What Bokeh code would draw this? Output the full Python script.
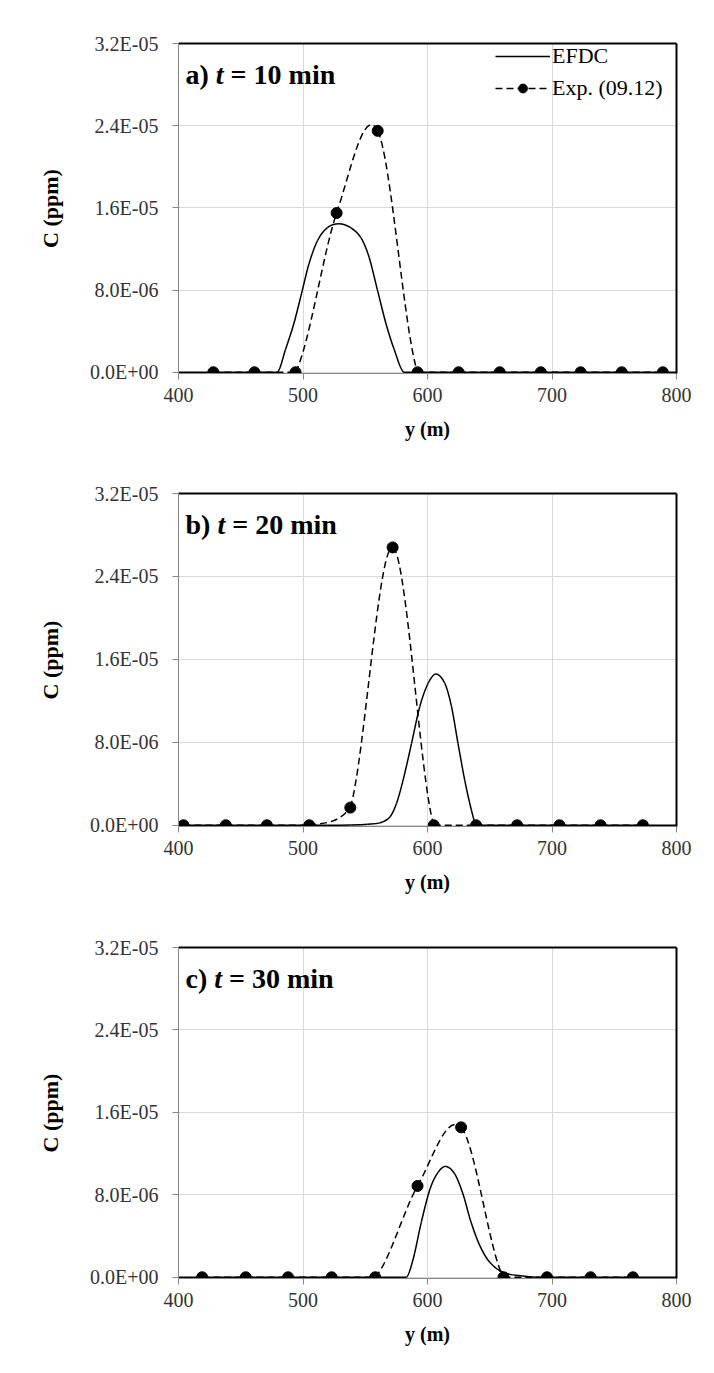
import math
from bokeh.plotting import figure
from bokeh.models import (Range1d, FixedTicker, CustomJSTickFormatter, Label, Legend,
                          LegendItem, LinearAxis, ColumnDataSource)
from bokeh.layouts import column
from bokeh.embed import file_html
from bokeh.resources import INLINE

# ---------------- data ----------------
x_ticks = [400, 500, 600, 700, 800]
y_ticks = [0.0, 8.0e-6, 1.6e-5, 2.4e-5, 3.2e-5]
y_tick_labels = ["0.0E+00", "8.0E-06", "1.6E-05", "2.4E-05", "3.2E-05"]

panel_letters = ["a)", "b)", "c)"]
panel_minutes = ["10", "20", "30"]
series_names = ["EFDC", "Exp. (09.12)"]
x_label = "y (m)"
y_label = "C (ppm)"

# a) t = 10 min
efdc_a_y = [400, 479.4, 486, 492.8, 499.5, 504.8, 511.6, 519.6, 528.9, 538.3, 546.4, 553.1,
            559.8, 566.5, 573.2, 581.2, 800]
efdc_a_c = [0, 0, 2.24e-6, 4.8e-6, 8.0e-6, 10.56e-6, 12.8e-6, 14.08e-6, 14.46e-6, 14.08e-6,
            13.12e-6, 11.2e-6, 8.0e-6, 4.8e-6, 2.24e-6, 0, 0]
exp_a_y = [428, 461, 494, 527, 560, 592, 625, 658, 691, 723, 756, 789]
exp_a_c = [0, 0, 0, 1.55e-5, 2.35e-5, 0, 0, 0, 0, 0, 0, 0]

# b) t = 20 min
efdc_b_y = [400, 520, 538, 552, 561.7, 569.8, 575.1, 580.4, 587.2, 593.8, 600.5, 606.7, 613.9,
            619.3, 624.5, 629.9, 635.3, 639.3, 800]
efdc_b_c = [0, 0, 0.03e-6, 0.1e-6, 0.23e-6, 0.8e-6, 2.1e-6, 4.35e-6, 7.9e-6, 11.45e-6, 13.7e-6,
            14.6e-6, 13.7e-6, 11.45e-6, 7.9e-6, 4.35e-6, 1.45e-6, 0, 0]
exp_b_y = [404, 438, 471, 505, 538, 572, 605, 639, 672, 706, 739, 773]
exp_b_c = [0, 0, 0, 0, 1.7e-6, 2.68e-5, 0, 0, 0, 0, 0, 0]

# c) t = 30 min
efdc_c_y = [400, 583, 588.5, 595, 602, 608.5, 615, 622, 628.5, 635, 642, 650, 660.5, 676.5, 690, 800]
efdc_c_c = [0, 0, 1.77e-6, 5.33e-6, 8.56e-6, 10.18e-6, 10.76e-6, 10.0e-6, 8.08e-6, 5.33e-6,
            3.07e-6, 1.45e-6, 0.48e-6, 0.12e-6, 0, 0]
exp_c_y = [419, 454, 488, 523, 558, 592, 627, 661, 696, 731, 765]
exp_c_c = [0, 0, 0, 0, 0, 8.86e-6, 1.455e-5, 0, 0, 0, 0]

# ---------------- helpers ----------------
SERIF = "Liberation Serif"
TB = {' ': 250, 'a': 500, 'b': 556, 'c': 444, ')': 333, '(': 333, '=': 570, '0': 500, '1': 500,
      '2': 500, '3': 500, 'm': 833, 'i': 278, 'n': 556, 'p': 556, 'C': 722}
TBI = {'t': 278, 'y': 444, 'C': 667, ' ': 250}


def tw(s, size, table):
    return sum(table.get(ch, 500) for ch in s) / 1000.0 * size


def smooth_segments(xs, ys):
    """Smoothed line (Excel style): cubic Bezier segments through the points,
    tangents from neighbouring points (Catmull-Rom in x), control points kept >= 0."""
    n = len(xs)

    def slope(i):
        a = max(i - 1, 0)
        b = min(i + 1, n - 1)
        return (ys[b] - ys[a]) / (xs[b] - xs[a])

    out = dict(x0=[], y0=[], x1=[], y1=[], cx0=[], cy0=[], cx1=[], cy1=[])
    for i in range(n - 1):
        h = xs[i + 1] - xs[i]
        out["x0"].append(xs[i]); out["y0"].append(ys[i])
        out["x1"].append(xs[i + 1]); out["y1"].append(ys[i + 1])
        out["cx0"].append(xs[i] + h / 3.0)
        out["cy0"].append(max(0.0, ys[i] + slope(i) * h / 3.0))
        out["cx1"].append(xs[i + 1] - h / 3.0)
        out["cy1"].append(max(0.0, ys[i + 1] - slope(i + 1) * h / 3.0))
    return out


def add_text(p, x, y, text, size, style):
    p.add_layout(Label(x=x, y=y, x_units="screen", y_units="screen", text=text,
                       text_font=SERIF, text_font_size=f"{size}px", text_font_style=style,
                       text_color="black", text_align="left", text_baseline="alphabetic"))


def make_panel(idx, efdc_y, efdc_c, exp_y, exp_c, height, top, bottom, legend=False):
    W = 714
    left, right = 178, 38
    fh = height - top - bottom
    p = figure(width=W, height=height, x_range=Range1d(400, 800),
               y_range=Range1d(-1.2e-7, 3.2e-5), output_backend="svg",
               toolbar_location=None, min_border_left=left, min_border_right=right,
               min_border_top=top, min_border_bottom=bottom,
               background_fill_color="white", border_fill_color="white",
               outline_line_color=None)

    xa, ya = p.xaxis[0], p.yaxis[0]
    xa.ticker = FixedTicker(ticks=x_ticks)
    ya.ticker = FixedTicker(ticks=y_ticks)
    ya.formatter = CustomJSTickFormatter(
        args=dict(tick_values=y_ticks, tick_labels=y_tick_labels),
        code="""
        let best = 0;
        for (let i = 0; i < tick_values.length; i++) {
            if (Math.abs(tick_values[i] - tick) < Math.abs(tick_values[best] - tick)) best = i;
        }
        return tick_labels[best];
        """)
    for ax in (xa, ya):
        ax.axis_line_color = "#868686"
        ax.axis_line_width = 1
        ax.major_tick_line_color = "#868686"
        ax.major_tick_out = 6
        ax.major_tick_in = 0
        ax.minor_tick_line_color = None
        ax.major_label_text_font = SERIF
        ax.major_label_text_font_size = "20px"
        ax.major_label_text_color = "#333333"
        ax.axis_label_text_font = SERIF
        ax.axis_label_text_font_style = "bold"
        ax.axis_label_text_color = "black"
    xa.major_label_standoff = 8
    ya.major_label_standoff = 14
    xa.axis_label = x_label
    xa.axis_label_text_font_size = "20px"
    xa.axis_label_standoff = 13
    ya.axis_label = y_label
    ya.axis_label_text_font_size = "22px"
    ya.axis_label_standoff = 24

    p.xgrid.ticker = FixedTicker(ticks=x_ticks)
    p.ygrid.ticker = FixedTicker(ticks=y_ticks)
    p.xgrid.grid_line_color = "#d9d9d9"
    p.ygrid.grid_line_color = "#d9d9d9"

    # black border on top / right
    for place in ("above", "right"):
        ax = LinearAxis(ticker=FixedTicker(ticks=[]), axis_line_color="black",
                        axis_line_width=2, major_tick_line_color=None,
                        minor_tick_line_color=None, major_label_text_font_size="0px")
        p.add_layout(ax, place)

    src_e = ColumnDataSource(smooth_segments(efdc_y, efdc_c))
    r_efdc = p.bezier(x0="x0", y0="y0", x1="x1", y1="y1", cx0="cx0", cy0="cy0",
                      cx1="cx1", cy1="cy1", source=src_e, line_color="black",
                      line_width=1.5)
    src = ColumnDataSource(smooth_segments(exp_y, exp_c))
    r_bez = p.bezier(x0="x0", y0="y0", x1="x1", y1="y1", cx0="cx0", cy0="cy0",
                     cx1="cx1", cy1="cy1", source=src, line_color="black",
                     line_width=1.5, line_dash="7 4")
    r_dots = p.scatter(exp_y, exp_c, size=11, color="black", marker="circle")

    if legend:
        lg = Legend(items=[LegendItem(label=series_names[0], renderers=[r_efdc]),
                           LegendItem(label=series_names[1], renderers=[r_bez, r_dots])],
                    location=(317, fh - 8 - 50), padding=0, margin=0, spacing=6,
                    glyph_width=55, glyph_height=22, label_height=22, label_standoff=2,
                    label_text_font=SERIF, label_text_font_size="22px",
                    label_text_color="black", background_fill_alpha=0,
                    border_line_color=None)
        p.add_layout(lg)

    # panel title: "a) t = 10 min" (t in italics)
    ts = 28
    x0 = 7
    yb = fh - 30.6
    add_text(p, x0, yb, panel_letters[idx], ts, "bold")
    x1 = x0 + tw(panel_letters[idx] + " ", ts, TB)
    add_text(p, x1, yb, "t", ts, "bold italic")
    x2 = x1 + tw("t", ts, TBI) + tw(" ", ts, TB)
    add_text(p, x2, yb, "= " + panel_minutes[idx] + " min", ts, "bold")
    return p


pa = make_panel(0, efdc_a_y, efdc_a_c, exp_a_y, exp_a_c, 450, 43, 77, legend=True)
pb = make_panel(1, efdc_b_y, efdc_b_c, exp_b_y, exp_b_c, 453, 43, 77)
pc = make_panel(2, efdc_c_y, efdc_c_c, exp_c_y, exp_c_c, 470, 44, 95)

layout = column(pa, pb, pc, spacing=0)
open("out.html", "w").write(file_html(layout, INLINE))
